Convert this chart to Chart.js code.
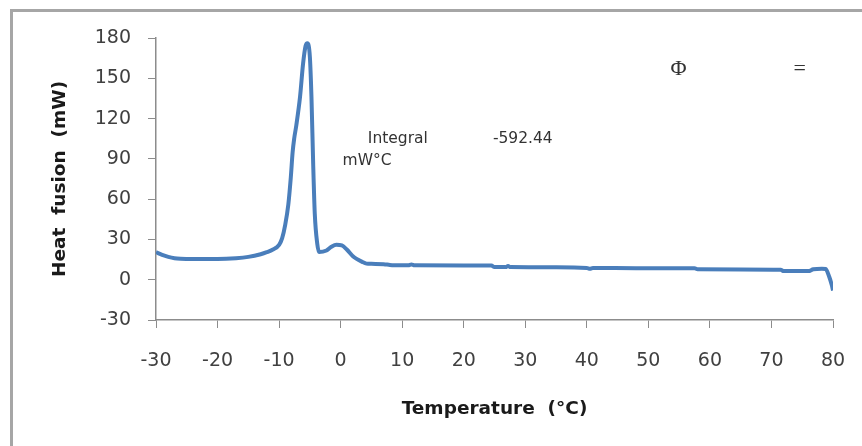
<!DOCTYPE html>
<html>
<head>
<meta charset="utf-8">
<script src="https://cdn.jsdelivr.net/npm/chart.js@4.4.1/dist/chart.umd.min.js"></script>
<style>
  body { margin: 0; background: #fff; }
  #wrap { position: relative; width: 862px; height: 446px; overflow: hidden; }
  #frame {
    position: absolute; left: 10px; top: 9px; width: 900px; height: 500px;
    border-left: 3px solid #a6a6a6; border-top: 3px solid #a6a6a6;
  }
  canvas { position: absolute; left: 0; top: 0; }
</style>
</head>
<body>
<div id="wrap">
  <div id="frame"></div>
  <canvas id="dscChart" width="862" height="446"></canvas>
</div>
<script>
// DSC curve
const temperature = [
  -30, -29, -28, -27, -26, -24, -20, -17, -15, -13, -12, -11, -10, -9.5,
  -9.0, -8.5, -8.1, -7.8, -7.55, -7.2, -6.6, -6.1, -5.7, -5.4, -5.0, -4.74, -4.46,
  -4.2, -3.8, -3.5, -2.3, -1.5, -0.7, 0.2, 1, 2, 2.6, 3.5, 4.2, 5, 7, 8, 9,
  11, 11.5, 12, 20, 24.5, 25, 26.8, 27.2, 27.6, 35, 40, 40.5, 41, 48, 57.5,
  58, 65, 71.5, 72, 76, 76.8, 78.2, 78.8, 79.4, 79.8, 80
];
const heatFlow = [
  20.5, 18.5, 17, 16, 15.6, 15.4, 15.4, 16, 17, 19, 20.5, 22.5, 26, 31,
  41, 56, 76, 95, 105, 115, 136, 161, 174, 176, 166, 136, 86,
  49, 26.8, 20.6, 21.8, 24.5, 26, 25.5, 22.5, 17.5, 15.5, 13.3, 12, 11.8, 11.6, 11, 10.8,
  10.7, 11.3, 10.7, 10.6, 10.5, 9.4, 9.4, 10.2, 9.4, 9.2, 8.8, 8.2, 8.8, 8.6, 8.5,
  7.7, 7.6, 7.4, 6.4, 6.4, 7.8, 8.2, 8, 2, -4, -8
];

const xTicks = { min: -30, max: 80, step: 10 };
const yTicks = { min: -30, max: 180, step: 30 };

// loose text in the plot, placed in data units
const notes = [
  { text: "\u03A6", x: 54.9, y: 156.6, font: "22px 'Liberation Serif'" },
  { text: "=", x: 74.6, y: 156.6, font: "22px 'Liberation Serif'" },
  { text: "Integral", x: 9.3, y: 104.5, font: "15.5px 'DejaVu Sans'" },
  { text: "-592.44", x: 29.6, y: 104.5, font: "15.5px 'DejaVu Sans'" },
  { text: "mW\u00B0C", x: 4.3, y: 88.1, font: "15.5px 'DejaVu Sans'" },
];

const points = temperature.map((t, i) => ({ x: t, y: heatFlow[i] }));

const notesPlugin = {
  id: "notes",
  afterDraw(chart) {
    const { ctx, scales } = chart;
    ctx.save();
    ctx.fillStyle = "#333";
    ctx.textAlign = "center";
    ctx.textBaseline = "middle";
    notes.forEach((n) => {
      ctx.font = n.font;
      ctx.fillText(n.text, scales.x.getPixelForValue(n.x), scales.y.getPixelForValue(n.y));
    });
    ctx.restore();
  },
};

const axisColor = "#8c8c8c";
const tickFont = { family: "DejaVu Sans", size: 19 };
const titleFont = { family: "DejaVu Sans", size: 18.5, weight: "bold" };

new Chart(document.getElementById("dscChart"), {
  type: "line",
  data: {
    datasets: [
      {
        data: points,
        borderColor: "#4a7ebb",
        borderWidth: 4,
        pointRadius: 0,
        fill: false,
        cubicInterpolationMode: "monotone",
      },
    ],
  },
  options: {
    responsive: false,
    animation: false,
    devicePixelRatio: 1,
    layout: { padding: { top: 38, right: 29, left: 0, bottom: 0 } },
    plugins: { legend: { display: false }, tooltip: { enabled: false } },
    scales: {
      x: {
        type: "linear",
        min: xTicks.min,
        max: xTicks.max,
        afterFit: (s) => { s.height = 126; s.paddingLeft = 0; s.paddingRight = 0; },
        ticks: { stepSize: xTicks.step, color: "#404040", font: tickFont, padding: 22, maxRotation: 0 },
        grid: { drawOnChartArea: false, color: axisColor, tickLength: 8 },
        border: { color: axisColor, width: 1.5 },
        title: { display: true, text: "Temperature  (\u00B0C)", color: "#1a1a1a", font: titleFont, padding: { bottom: 26 } },
      },
      y: {
        min: yTicks.min,
        max: yTicks.max,
        afterFit: (s) => { s.width = 156; },
        ticks: { stepSize: yTicks.step, color: "#404040", font: tickFont, padding: 17 },
        grid: { drawOnChartArea: false, color: axisColor, tickLength: 8 },
        border: { color: axisColor, width: 1.5 },
        title: { display: true, text: "Heat  fusion  (mW)", color: "#1a1a1a", font: titleFont, padding: { top: 49 } },
      },
    },
  },
  plugins: [notesPlugin],
});
</script>
</body>
</html>
